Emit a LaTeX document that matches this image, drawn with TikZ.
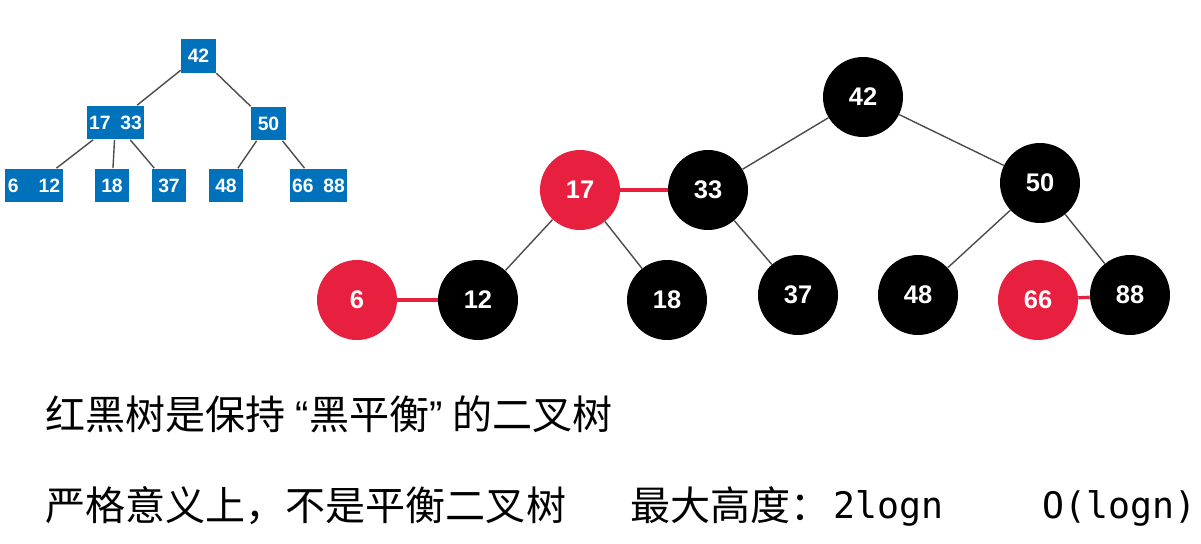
\documentclass[tikz,border=0pt]{standalone}
\usepackage{fontspec}
\setsansfont{Liberation Sans}
\setmonofont{DejaVu Sans Mono}
\newfontfamily\cjk{Noto Sans CJK SC}
\definecolor{bblue}{rgb}{0.0,0.447,0.737}
\definecolor{rbred}{rgb}{0.91,0.125,0.251}
\definecolor{edgegray}{gray}{0.3}
\newcommand{\openq}{\hspace{0.2cm}{\sffamily“}}
\newcommand{\closeq}{{\sffamily”}\hspace{0.2cm}}

\begin{document}
\begin{tikzpicture}[x=0.02cm,y=-0.02cm,
bkey/.style={fill=bblue,text=white,inner sep=0pt,minimum width=0.7cm,minimum height=0.68cm,
  font=\sffamily\bfseries\fontsize{11}{13}\selectfont},
rbkey/.style={circle,inner sep=0pt,minimum size=1.6cm,text=white,
  font=\sffamily\bfseries\fontsize{14.5}{17}\selectfont},
blacknode/.style={rbkey,fill=black},
rednode/.style={rbkey,fill=rbred},
link/.style={edgegray,line width=0.8pt},
redlink/.style={rbred,line width=1.8pt},
caption/.style={anchor=base west,inner sep=0pt,font=\cjk\fontsize{22.8}{27}\selectfont},
code/.style={anchor=base west,inner sep=0pt,font=\ttfamily\fontsize{20.8}{24}\selectfont}]
\useasboundingbox (0,0) rectangle (1201,544);
\node[bkey] (b42) at (198.5,56) {42};
\node[bkey,minimum width=1.14cm] (b1733) at (115.5,122.5) {17\hspace{0.2cm}33};
\node[bkey] (b50) at (268.5,123.5) {50};
\node[bkey,minimum width=1.16cm] (b612) at (34,185.5) {6\hspace{0.4cm}12};
\node[bkey] (b18) at (112,185.5) {18};
\node[bkey] (b37) at (169,185.5) {37};
\node[bkey] (b48) at (226,185.5) {48};
\node[bkey,minimum width=1.14cm] (b6688) at (318.5,185.5) {66\hspace{0.2cm}88};
\draw[link] (b42) -- (b1733);
\draw[link] (b42) -- (b50);
\draw[link] (b1733) -- (b612);
\draw[link] (b1733) -- (b18);
\draw[link] (b1733) -- (b37);
\draw[link] (b50) -- (b48);
\draw[link] (b50) -- (b6688);
\node[blacknode] (r42) at (863,97) {42};
\node[rednode] (r17) at (580,190) {17};
\node[blacknode] (r33) at (708,190) {33};
\node[blacknode] (r50) at (1040,183) {50};
\node[rednode] (r6) at (357,300) {6};
\node[blacknode] (r12) at (478,300) {12};
\node[blacknode] (r18) at (667,300) {18};
\node[blacknode] (r37) at (798,295) {37};
\node[blacknode] (r48) at (918,295) {48};
\node[rednode] (r66) at (1038,300) {66};
\node[blacknode] (r88) at (1130,295) {88};
\draw[link] (r42) -- (r33);
\draw[link] (r42) -- (r50);
\draw[link] (r17) -- (r12);
\draw[link] (r17) -- (r18);
\draw[link] (r33) -- (r37);
\draw[link] (r50) -- (r48);
\draw[link] (r50) -- (r88);
\draw[redlink] (r17) -- (r33);
\draw[redlink] (r6) -- (r12);
\draw[redlink] (r66) -- (r88);
\node[caption] (line1) at (45,429) {红黑树是保持\openq 黑平衡\closeq 的二叉树};
\node[caption] (line2) at (45,520) {严格意义上，不是平衡二叉树};
\node[caption] (height) at (630,520) {最大高度：};
\node[code] (twolog) at (833,518) {2logn};
\node[code] (olog) at (1042,518) {O(logn)};
\end{tikzpicture}
\end{document}
